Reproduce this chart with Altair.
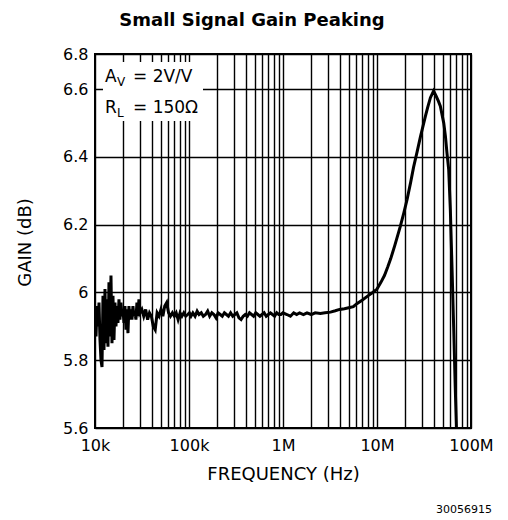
import altair as alt
import pandas as pd

# ---- data (frequency in Hz, gain in dB) ----
freq_noise = [10000, 10250, 10500, 10760, 11030, 11300, 11580, 11870, 12160, 12460,
              12770, 13090, 13410, 13740, 14080, 14430, 14790, 15160, 15530, 15920,
              16310, 16720, 17130, 17550, 17990, 18430, 18890, 19360, 19840, 20330,
              20830, 21350, 21880, 22420, 22970, 23540, 24120, 24720, 25330, 25960,
              26600, 27260, 27930, 28620, 29330, 30060]
gain_noise = [5.95, 5.87, 5.96, 5.90, 5.97, 5.86,
              5.80, 5.78, 5.99, 5.83, 6.01, 5.85,
              5.98, 5.84, 6.03, 5.87, 6.05, 5.85,
              5.99, 5.86, 5.97, 5.90, 5.96, 5.91,
              5.98, 5.92, 5.97, 5.93, 5.95, 5.91,
              5.96, 5.89, 5.95, 5.88, 5.96, 5.92,
              5.95, 5.92, 5.96, 5.93, 5.94, 5.92,
              5.97, 5.93, 5.98, 5.94]

freq_low = [31500, 33000, 34600, 36300, 38000, 39800, 41700, 43700, 45800, 48000,
            50300, 52700, 55200, 57900, 60600, 63500, 66600, 69800, 73100, 76600,
            80300, 84100, 88100, 92300, 96800, 101000]
gain_low = [5.95, 5.93, 5.95, 5.92, 5.94, 5.93, 5.90, 5.89, 5.94, 5.93,
            5.95, 5.93, 5.96, 5.97, 5.94, 5.93, 5.94, 5.93, 5.94, 5.92,
            5.94, 5.93, 5.94, 5.93, 5.935, 5.94]

freq_flat = [105000, 110000, 116000, 122000, 128000, 135000, 142000, 150000, 158000, 166000,
             175000, 184000, 194000, 204000, 215000, 226000, 238000, 250000, 263000, 277000,
             292000, 307000, 323000, 340000, 358000, 377000, 397000, 418000, 440000, 463000,
             487000, 513000, 540000, 568000, 598000, 630000, 663000, 698000, 735000, 773000,
             814000, 857000, 902000, 950000, 1000000, 1100000, 1200000, 1300000, 1400000, 1500000,
             1650000, 1800000, 2000000, 2200000, 2500000]
gain_flat = [5.93, 5.94, 5.93, 5.945, 5.935, 5.94, 5.93, 5.935, 5.945, 5.93,
             5.94, 5.935, 5.925, 5.94, 5.935, 5.93, 5.94, 5.935, 5.93, 5.94,
             5.93, 5.935, 5.94, 5.925, 5.92, 5.93, 5.935, 5.93, 5.94, 5.935,
             5.93, 5.94, 5.935, 5.93, 5.935, 5.94, 5.93, 5.935, 5.94, 5.935,
             5.93, 5.94, 5.935, 5.935, 5.94, 5.935, 5.93, 5.94, 5.935, 5.94,
             5.935, 5.94, 5.935, 5.94, 5.938]

freq_peak = [2800000, 3200000, 3600000, 4000000, 4500000, 5000000, 5600000, 6100000, 7000000, 8000000,
             9000000, 10000000, 11000000, 12000000, 13000000, 14000000, 15500000, 17700000, 19300000, 20900000,
             22800000, 24500000, 26700000, 29000000, 32700000, 34500000, 37000000, 40000000, 42500000, 45000000,
             47200000, 51300000, 53500000, 55600000, 57900000, 60300000, 63000000, 65400000, 68000000, 70000000]
gain_peak = [5.94, 5.942, 5.946, 5.95, 5.952, 5.955, 5.958, 5.967, 5.978, 5.99,
             6.0, 6.01, 6.03, 6.05, 6.075, 6.1, 6.14, 6.195, 6.235, 6.275,
             6.325, 6.37, 6.415, 6.46, 6.52, 6.545, 6.575, 6.595, 6.58, 6.565,
             6.55, 6.50, 6.46, 6.41, 6.363, 6.244, 6.06, 5.898, 5.72, 5.6]

x_grid = [10000, 20000, 30000, 40000, 50000, 60000, 70000, 80000, 90000,
          100000, 200000, 300000, 400000, 500000, 600000, 700000, 800000, 900000,
          1000000, 2000000, 3000000, 4000000, 5000000, 6000000, 7000000, 8000000, 9000000,
          10000000, 20000000, 30000000, 40000000, 50000000, 60000000, 70000000, 80000000, 90000000,
          100000000]
x_label_values = [10000, 100000, 1000000, 10000000, 100000000]
x_label_texts = ["10k", "100k", "1M", "10M", "100M"]
y_ticks = [5.6, 5.8, 6.0, 6.2, 6.4, 6.6, 6.704]   # top edge of the plot is labelled 6.8
y_top_label = "6.8"

FONT = "DejaVu Sans"

df = pd.DataFrame({
    "freq": freq_noise + freq_low + freq_flat + freq_peak,
    "gain": gain_noise + gain_low + gain_flat + gain_peak,
})

label_expr = " : ".join(
    f"datum.value == {v} ? '{t}'" for v, t in zip(x_label_values, x_label_texts)
) + " : ''"

line = alt.Chart(df).mark_line(color="black", strokeWidth=3, clip=True).encode(
    x=alt.X("freq:Q",
            scale=alt.Scale(type="log", domain=[10000, 100000000], nice=False),
            axis=alt.Axis(values=x_grid, labelExpr=label_expr, title="FREQUENCY (Hz)",
                          labelFlush=False, labelOverlap=False, ticks=False, tickSize=0,
                          labelPadding=9, titlePadding=12, domain=False)),
    y=alt.Y("gain:Q",
            scale=alt.Scale(domain=[5.6, 6.704], nice=False, zero=False),
            axis=alt.Axis(values=y_ticks,
                          labelExpr=f"datum.value > 6.65 ? '{y_top_label}' : format(datum.value, '.1~f')",
                          title="GAIN (dB)", ticks=False, tickSize=0, labelPadding=7,
                          labelOverlap=False, domain=False,
                          titleX=-70, titleY=188, titleAngle=270,
                          titleAlign="center", titleBaseline="middle")),
)

box = alt.Chart().mark_rect(color="white").encode(
    x=alt.value(8), x2=alt.value(108), y=alt.value(8), y2=alt.value(67)
)

def txt(s, x, y, size, align="left"):
    return alt.Chart().mark_text(font=FONT, fontSize=size, align=align,
                                 baseline="alphabetic", color="black").encode(
        x=alt.value(x), y=alt.value(y), text=alt.value(s))

texts = [
    txt("A", 10, 28, 17),
    txt("V", 22, 32, 12),
    txt("= 2V/V", 38, 28, 17),
    txt("R", 10, 59, 17),
    txt("L", 22, 63, 12),
    txt("= 150Ω", 38, 59, 17),
    txt("30056915", 397, 459, 11, align="right"),
]

chart = alt.layer(line, box, *texts).properties(
    width=376, height=374,
    title=alt.Title("Small Signal Gain Peaking", font=FONT, fontSize=18, fontWeight="bold",
                    anchor="middle", dx=-31, offset=2, baseline="alphabetic", color="black"),
    autosize=alt.AutoSizeParams(type="none"),
    padding={"left": 95, "top": 54, "right": 37, "bottom": 92},
    background="white",
).configure_view(
    stroke="black", strokeWidth=2
).configure_axis(
    grid=True, gridColor="black", gridWidth=1.4, gridOpacity=1,
    labelFont=FONT, labelFontSize=16, labelColor="black",
    titleFont=FONT, titleFontSize=18, titleFontWeight="normal", titleColor="black",
)

chart.save("out.html", embed_options={"renderer": "svg", "actions": False})
